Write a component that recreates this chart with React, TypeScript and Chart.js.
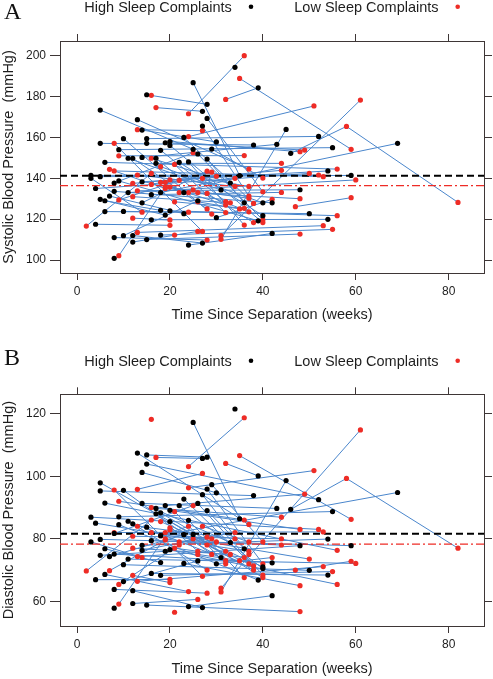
import React, { useEffect, useRef } from "react";
import { Chart, registerables } from "chart.js";

Chart.register(...registerables);

// ---- data (one entry per participant; visits in order) ----
const visitWeeks: number[][] = [
  [24, 36], [34], [35, 59], [32, 39], [15, 28], [16], [17, 27], [46, 58, 82], [31, 61], [31, 45],
  [18, 69], [5, 59], [11, 60], [47, 59], [6, 56], [10, 50], [20, 56], [9, 55], [18, 55], [14, 54],
  [16, 54], [8, 53], [13, 53], [3, 52], [15, 52], [24, 51], [4, 50], [19, 49], [20, 48], [23, 48],
  [15, 48], [13, 48], [17, 44], [12, 44], [16, 44], [14, 43], [24, 42], [8, 42], [30, 42], [13, 27],
  [5, 38], [5, 25], [25, 35], [13, 37], [14, 30], [28, 40], [27, 37], [23, 38], [8, 27], [9, 36],
  [29, 40], [16, 33], [26, 40], [22, 40], [24, 36], [11, 31], [12, 28], [18, 32], [20, 40], [28, 36],
  [10, 29], [21, 32], [18, 40], [2, 16], [7, 19], [9, 20], [8], [21], [12, 27], [10, 26],
  [4, 20], [8, 28], [12, 26], [6, 24], [3, 14], [5, 19], [6, 18], [7, 23], [8, 25], [9, 39],
  [15], [12, 20], [16, 29], [19, 37], [20, 32], [21, 36], [26, 35], [25, 37], [28, 38], [12, 33],
  [9, 22], [13, 34], [14, 28], [17, 26], [19, 30], [22, 34], [27, 37], [18, 24],
];

// H = high sleep complaints, L = low sleep complaints (per visit)
const complaintGroup: string[][] = [
  ["L", "L"], ["H"], ["L", "L"], ["L", "H"], ["H", "H"], ["L"], ["L", "H"], ["H", "L", "L"], ["L", "L"], ["L", "H"],
  ["H", "H"], ["H", "H"], ["H", "L"], ["L", "L"], ["H", "L"], ["H", "H"], ["H", "L"], ["H", "H"], ["H", "L"], ["H", "H"],
  ["H", "H"], ["L", "L"], ["L", "L"], ["H", "L"], ["H", "H"], ["L", "L"], ["H", "L"], ["H", "L"], ["H", "L"], ["H", "L"],
  ["H", "L"], ["L", "H"], ["H", "L"], ["L", "L"], ["H", "L"], ["H", "H"], ["H", "H"], ["H", "H"], ["H", "L"], ["L", "L"],
  ["H", "H"], ["H", "H"], ["H", "H"], ["H", "L"], ["H", "H"], ["H", "L"], ["H", "L"], ["H", "L"], ["L", "L"], ["L", "L"],
  ["H", "L"], ["L", "H"], ["H", "L"], ["H", "H"], ["H", "L"], ["H", "H"], ["H", "L"], ["H", "L"], ["H", "L"], ["H", "H"],
  ["H", "L"], ["L", "L"], ["L", "H"], ["L", "L"], ["L", "L"], ["L", "L"], ["H"], ["L"], ["H", "H"], ["H", "H"],
  ["H", "L"], ["H", "L"], ["H", "L"], ["H", "L"], ["H", "L"], ["H", "H"], ["H", "H"], ["H", "H"], ["H", "L"], ["H", "H"],
  ["H"], ["L", "L"], ["L", "L"], ["L", "L"], ["L", "L"], ["L", "L"], ["L", "L"], ["L", "L"], ["L", "L"], ["L", "L"],
  ["L", "L"], ["L", "L"], ["H", "L"], ["H", "L"], ["L", "L"], ["L", "L"], ["L", "L"], ["L", "L"],
];

const systolic: number[][] = [
  [171.6, 200], [194.3], [188.9, 154.2], [178.6, 184.3], [180.9, 176.2], [180.6], [174.6, 172.8], [152.2, 165.4, 128.2], [112, 178.3], [110.1, 163.9],
  [133, 157.1], [140.8, 141.4], [133, 139.2], [126.1, 130.5], [147.8, 144.5], [123.8, 122.7], [124.1, 121.7], [154, 155], [112.2, 115], [138.3, 143.6],
  [119.7, 119.9], [143.6, 140.8], [113.5, 116.8], [141.4, 141.6], [159.4, 160.5], [160.4, 175.4], [135, 142.4], [157.4, 153.8], [158, 153], [133, 130],
  [110, 112.7], [133.9, 134.4], [147.3, 147.3], [137.5, 143.9], [132, 133.1], [150.2, 156.6], [107.3, 113], [133.6, 128], [120.7, 129.7], [163.8, 163.3],
  [157.1, 156.3], [173.4, 154.2], [186.8, 141.3], [168.7, 144.5], [163.6, 157.8], [169.3, 133.4], [165.6, 131.3], [160, 127.7], [157.1, 114], [151, 151.1],
  [154.3, 140.1], [149.8, 137.7], [151.9, 119.6], [147.8, 121.7], [148, 117.1], [149.8, 134.3], [149.8, 125], [153.7, 128.6], [156.1, 118.3], [149.4, 128],
  [159.4, 122.5], [146.8, 123.2], [145.7, 128], [116.6, 142.4], [144.4, 135], [102.1, 139.2], [100.8], [112.2], [112, 108.3], [111.9, 129],
  [117.5, 117], [111, 109.8], [108.8, 114], [123.7, 123.4], [140, 123.4], [129.7, 122], [129, 124.3], [131.3, 122.7], [137.7, 152.5], [138.7, 119.2],
  [157.1], [120.5, 119.6], [137, 143], [135.7, 130.2], [135.7, 126.9], [128.5, 125.3], [128.5, 125], [134.3, 123.6], [132.6, 118.3], [131, 128],
  [129.4, 139], [141.6, 136], [128, 143.5], [149.8, 133], [138, 141], [133, 140], [140, 136], [138, 133],
];

const diastolic: number[][] = [
  [103.1, 118.7], [121.5], [106.6, 86.2], [104.1, 100.1], [106.8, 106.1], [118.2], [106, 105.7], [89.4, 99.3, 77], [64.2, 114.8], [63, 98.6],
  [81, 94.8], [79.8, 77.8], [73.5, 72.1], [70, 72.8], [91.4, 76.3], [71.7, 69.9], [76.5, 65.4], [87, 88.7], [68.3, 69.5], [77.9, 79.9],
  [68.9, 68.4], [82, 82.2], [66.4, 71.1], [86.9, 83], [103.9, 92.5], [96.3, 101.8], [85, 73.5], [90.6, 94.3], [89.1, 83], [72.1, 65],
  [58.8, 56.7], [74.3, 77.8], [89.7, 86.9], [80.8, 80], [79.4, 78], [91.3, 89.7], [58.3, 61.8], [75.1, 72.3], [72, 74], [95.8, 100.9],
  [95.3, 93.8], [97.9, 81.4], [117.2, 86.4], [107.4, 84.6], [101.2, 94.7], [95.9, 72], [94.1, 75], [92.7, 71.3], [95.6, 68], [92, 86],
  [97.3, 79], [90, 78.8], [91.3, 68.4], [90.6, 70.5], [85.9, 67.6], [85.6, 74], [84.8, 70], [88.3, 76], [85.5, 67.6], [89, 76.8],
  [95.5, 75], [88.7, 72], [85.5, 71], [69.7, 86], [69.8, 79.6], [59.1, 82.8], [57.8], [56.5], [63.4, 58], [66.3, 72.9],
  [66.9, 67], [63.8, 62.6], [59.3, 60.6], [68.6, 63.1], [79, 74], [74.7, 76], [76.8, 72.4], [74.3, 81.3], [81.7, 90.6], [84.5, 66.8],
  [83.7], [68.3, 66], [82, 80], [80, 76], [83.5, 73], [77, 74], [75, 73], [80, 72], [78, 70], [77, 75],
  [65.4, 78], [84, 80], [76.3, 80.5], [88, 76], [82, 79], [79, 82], [84, 79], [81, 84],
];

const xTicks = [0, 20, 40, 60, 80];
const sysTicks = [100, 120, 140, 160, 180, 200];
const diaTicks = [60, 80, 100, 120];
const sysMeanLines = [141.2, 136.4]; // high, low
const diaMeanLines = [81.6, 78.3]; // high, low
const legendLabels = ["High Sleep Complaints", "Low Sleep Complaints"];

// ---- styling ----
const X_MIN = -3.66;
const X_MAX = 87.6;
const AXIS = "#3e3636";
const TEXT = "#1e1e1e";
const BLUE = "#4a86cc";
const RED = "#ee2c26";
const FONT = "'Liberation Sans', Arial, sans-serif";

type PanelSpec = {
  letter: string;
  yTitle: string;
  values: number[][];
  ticks: number[];
  means: number[];
  yMin: number;
  yMax: number;
  height: number;
  topH: number;
  bottomH: number;
  xTitlePad: number;
  legendBase: number;
  letterBase: number;
};

function Panel({ spec }: { spec: PanelSpec }) {
  const ref = useRef<HTMLCanvasElement | null>(null);
  useEffect(() => {
    if (!ref.current) return;
    const lineSets = visitWeeks.map((w, i) => ({
      data: w.map((x, j) => ({ x, y: spec.values[i][j] })),
      showLine: true,
      borderColor: BLUE,
      borderWidth: 1,
      pointRadius: 0,
      order: 3,
    }));
    const high: { x: number; y: number }[] = [];
    const low: { x: number; y: number }[] = [];
    visitWeeks.forEach((w, i) =>
      w.forEach((x, j) => {
        (complaintGroup[i][j] === "H" ? high : low).push({ x, y: spec.values[i][j] });
      })
    );
    const pointSet = (data: any[], color: string) => ({
      data,
      showLine: false,
      pointRadius: 2.6,
      pointBorderWidth: 0,
      pointBackgroundColor: color,
      backgroundColor: color,
      borderColor: color,
      order: 0,
    });
    const meanSet = (y: number, color: string, dash: number[], width: number) => ({
      data: [
        { x: X_MIN, y },
        { x: X_MAX, y },
      ],
      showLine: true,
      borderColor: color,
      borderWidth: width,
      borderDash: dash,
      pointRadius: 0,
      order: 1,
    });

    const annot = {
      id: "annot",
      afterDraw(chart: any) {
        const ctx = chart.ctx as CanvasRenderingContext2D;
        ctx.save();
        ctx.fillStyle = "#111";
        ctx.textBaseline = "alphabetic";
        ctx.font = "24px 'Liberation Serif', serif";
        ctx.fillText(spec.letter, 4, spec.letterBase);
        ctx.font = `14.5px ${FONT}`;
        ctx.fillStyle = TEXT;
        ctx.fillText(legendLabels[0], 84.3, spec.legendBase);
        ctx.fillText(legendLabels[1], 294.3, spec.legendBase);
        ctx.beginPath();
        ctx.fillStyle = "#000";
        ctx.arc(251, spec.legendBase - 5, 2.3, 0, Math.PI * 2);
        ctx.fill();
        ctx.beginPath();
        ctx.fillStyle = RED;
        ctx.arc(457.7, spec.legendBase - 5, 2.3, 0, Math.PI * 2);
        ctx.fill();
        ctx.restore();
      },
    };

    const gridX = { drawOnChartArea: false, drawTicks: true, tickLength: 7, color: AXIS, lineWidth: 1 };
    const gridYL = { drawOnChartArea: false, drawTicks: true, tickLength: 10, color: AXIS, lineWidth: 1 };
    const gridYR = { drawOnChartArea: false, drawTicks: true, tickLength: 8, color: AXIS, lineWidth: 1 };
    const border = { display: true, color: AXIS, width: 1 };
    const setX = (s: any) => {
      s.ticks = xTicks.map((v) => ({ value: v }));
    };
    const setY = (s: any) => {
      s.ticks = spec.ticks.map((v) => ({ value: v }));
    };

    const chart = new Chart(ref.current, {
      type: "scatter",
      data: {
        datasets: [
          pointSet(high, "#000000"),
          pointSet(low, RED),
          meanSet(spec.means[0], "#000000", [7, 4], 2),
          meanSet(spec.means[1], RED, [8, 3, 2, 3], 1.4),
          ...lineSets,
        ] as any,
      },
      options: {
        animation: false,
        responsive: false,
        maintainAspectRatio: false,
        layout: { padding: 0 },
        plugins: { legend: { display: false }, tooltip: { enabled: false } },
        scales: {
          x: {
            type: "linear",
            position: "bottom",
            min: X_MIN,
            max: X_MAX,
            afterBuildTicks: setX,
            afterFit: (s: any) => {
              s.height = spec.bottomH;
            },
            grid: gridX,
            border,
            ticks: { font: { family: FONT, size: 12 }, color: TEXT, padding: 4.5, maxRotation: 0 },
            title: {
              display: true,
              text: "Time Since Separation (weeks)",
              font: { family: FONT, size: 14.5 },
              color: TEXT,
              padding: { top: 0, bottom: spec.xTitlePad },
            },
          },
          x2: {
            type: "linear",
            axis: "x",
            position: "top",
            min: X_MIN,
            max: X_MAX,
            afterBuildTicks: setX,
            afterFit: (s: any) => {
              s.height = spec.topH;
            },
            grid: gridX,
            border,
            ticks: { display: false },
          },
          y: {
            type: "linear",
            position: "left",
            min: spec.yMin,
            max: spec.yMax,
            afterBuildTicks: setY,
            afterFit: (s: any) => {
              s.width = 60;
            },
            grid: gridYL,
            border,
            ticks: { font: { family: FONT, size: 12 }, color: TEXT, padding: 4 },
            title: {
              display: true,
              text: spec.yTitle,
              font: { family: FONT, size: 14.5 },
              color: TEXT,
              padding: { top: 0, bottom: 0 },
            },
          },
          y2: {
            type: "linear",
            axis: "y",
            position: "right",
            min: spec.yMin,
            max: spec.yMax,
            afterBuildTicks: setY,
            afterFit: (s: any) => {
              s.width = 9;
            },
            grid: gridYR,
            border,
            ticks: { display: false },
          },
        } as any,
      },
      plugins: [annot],
    });
    return () => chart.destroy();
  }, [spec]);
  return <canvas ref={ref} width={493} height={spec.height} style={{ display: "block" }} />;
}

const panelA: PanelSpec = {
  letter: "A",
  yTitle: "Systolic Blood Pressure  (mmHg)",
  values: systolic,
  ticks: sysTicks,
  means: sysMeanLines,
  yMin: 93.64,
  yMax: 207.2,
  height: 340,
  topH: 41,
  bottomH: 67,
  xTitlePad: 16.3,
  legendBase: 11.7,
  letterBase: 19.3,
};

const panelB: PanelSpec = {
  letter: "B",
  yTitle: "Diastolic Blood Pressure  (mmHg)",
  values: diastolic,
  ticks: diaTicks,
  means: diaMeanLines,
  yMin: 52.1,
  yMax: 126.2,
  height: 339,
  topH: 54.3,
  bottomH: 53,
  xTitlePad: 1.3,
  legendBase: 25.7,
  letterBase: 25,
};

export default function App() {
  return (
    <div style={{ position: "fixed", left: 0, top: 0, width: 493, height: 679, background: "#fff" }}>
      <div style={{ position: "absolute", left: 0, top: 0 }}>
        <Panel spec={panelA} />
      </div>
      <div style={{ position: "absolute", left: 0, top: 340 }}>
        <Panel spec={panelB} />
      </div>
    </div>
  );
}
